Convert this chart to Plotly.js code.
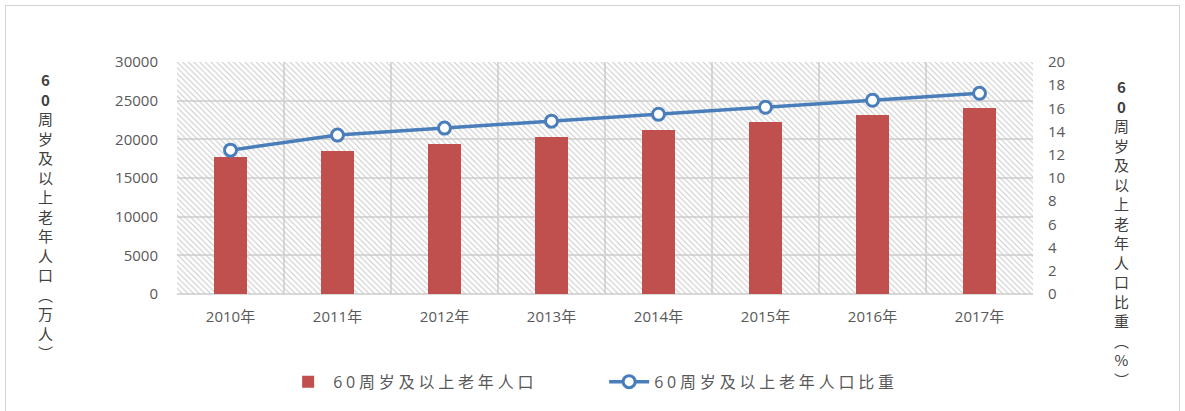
<!DOCTYPE html>
<html><head><meta charset="utf-8">
<script src="https://cdn.plot.ly/plotly-3.0.1.min.js"></script>
<style>
html,body{margin:0;padding:0;background:#fff;}
#chart{width:1185px;height:411px;}
#frame{position:absolute;left:5px;top:5px;width:1175px;height:410px;border:1px solid #d4d4d4;pointer-events:none;box-sizing:border-box;}
.legendtext{letter-spacing:3.8px;}
</style></head>
<body>
<div id="chart"></div><div id="frame"></div>
<script>
const years = ['2010年','2011年','2012年','2013年','2014年','2015年','2016年','2017年'];
const elderlyPop = [17765, 18499, 19390, 20243, 21242, 22200, 23086, 24090];
const elderlyShare = [12.4, 13.7, 14.3, 14.9, 15.5, 16.1, 16.7, 17.3];
const popName = '60周岁及以上老年人口';
const shareName = '60周岁及以上老年人口比重';
const leftTitle = ['<b>6</b>','<b>0</b>','周','岁','及','以','上','老','年','人','口','︵','万','人','︶'];
const rightTitle = ['<b>6</b>','<b>0</b>','周','岁','及','以','上','老','年','人','口','比','重','︵','%','︶'];

const font = "'Open Sans', 'Noto Sans CJK SC', sans-serif";
const titleFont = "'Noto Sans CJK SC', sans-serif";
const tickColor = '#595959';
const gridColor = '#d9d9d9';

const traces = [
  { // hatched background of the plot area
    type:'bar', x:[0.5], y:[1], width:[1], xaxis:'x', yaxis:'y',
    marker:{color:'rgba(0,0,0,0)', line:{width:0},
      pattern:{shape:'\\', fgcolor:'#c8c8c8', bgcolor:'rgba(0,0,0,0)', size:4, solidity:0.25}},
    showlegend:false, hoverinfo:'skip'
  },
  {
    type:'bar', name:popName, x:years, y:elderlyPop, xaxis:'x2', yaxis:'y2',
    width:0.3, marker:{color:'#c0504d'}
  },
  {
    type:'scatter', mode:'lines+markers', name:shareName, x:years, y:elderlyShare,
    xaxis:'x2', yaxis:'y3',
    line:{color:'#4a7ebb', width:3.5},
    marker:{symbol:'circle', size:12, color:'#ffffff', line:{color:'#4a7ebb', width:3}}
  }
];

const annotations = [
  {xref:'paper', yref:'paper', x:-0.154, y:0.338, text:leftTitle.join('<br>'), showarrow:false,
   font:{family:titleFont, size:15, color:'#404040'}, align:'center', xanchor:'center', yanchor:'middle'},
  {xref:'paper', yref:'paper', x:1.103, y:0.262, text:rightTitle.join('<br>'), showarrow:false,
   font:{family:titleFont, size:15, color:'#404040'}, align:'center', xanchor:'center', yanchor:'middle'}
];

const layout = {
  width:1185, height:411,
  margin:{l:177, r:152, t:62, b:115},
  paper_bgcolor:'#ffffff', plot_bgcolor:'#ffffff',
  font:{family:font, color:tickColor},
  bargap:0,
  xaxis:{range:[0,1], visible:false, fixedrange:true},
  yaxis:{range:[0,1], visible:false, fixedrange:true},
  xaxis2:{overlaying:'x', type:'category', tickson:'boundaries', showgrid:true,
    gridcolor:gridColor, gridwidth:2, ticks:'', showline:false, zeroline:false,
    ticklabelstandoff:12,
    tickfont:{family:font, size:15, color:tickColor}, range:[-0.5,7.5]},
  yaxis2:{overlaying:'y', side:'left', range:[0,30000], dtick:5000, tickformat:'d', showgrid:true,
    gridcolor:gridColor, gridwidth:2, zeroline:true, zerolinecolor:gridColor, zerolinewidth:2,
    ticks:'', showline:false, ticklabelstandoff:18,
    tickfont:{family:font, size:15, color:tickColor}},
  yaxis3:{overlaying:'y', side:'right', range:[0,20], dtick:2, showgrid:false, zeroline:false,
    ticks:'', showline:false, ticklabelstandoff:14,
    tickfont:{family:font, size:15, color:tickColor}},
  legend:{orientation:'h', x:0.124, xanchor:'left', y:-0.305, yanchor:'top',
    font:{family:font, size:16, color:tickColor}, itemwidth:40, entrywidth:266, entrywidthmode:'pixels',
    traceorder:'normal'},
  annotations:annotations,
  showlegend:true
};

Plotly.newPlot('chart', traces, layout, {displayModeBar:false, staticPlot:true});
</script>
</body></html>
